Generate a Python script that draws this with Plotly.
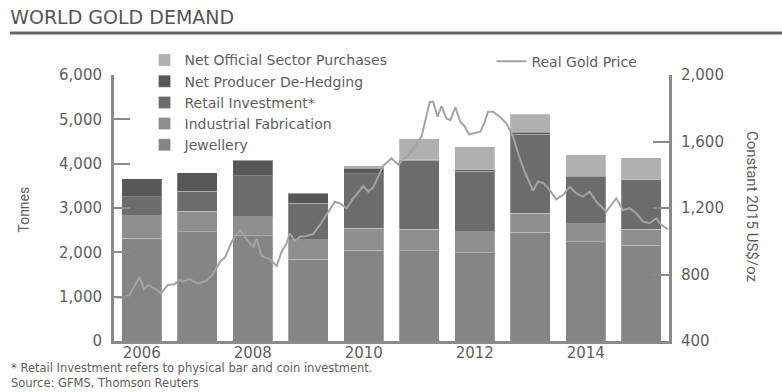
import plotly.graph_objects as go

years = [2006, 2007, 2008, 2009, 2010, 2011, 2012, 2013, 2014, 2015]
jewellery = [2320, 2460, 2370, 1840, 2050, 2040, 1990, 2450, 2240, 2160]
industrial = [500, 470, 430, 440, 490, 480, 480, 430, 400, 360]
retail = [430, 450, 930, 830, 1230, 1560, 1360, 1780, 1060, 1130]
dehedging = [410, 420, 350, 220, 130, 10, 30, 50, 20, 0]
official = [0, 0, 0, 0, 50, 470, 520, 400, 480, 480]

price_t = [2005.51, 2005.66, 2005.78, 2005.96, 2006.04, 2006.11, 2006.19, 2006.26, 2006.35,
           2006.47, 2006.59, 2006.68, 2006.74, 2006.86, 2007.01, 2007.17, 2007.29, 2007.41,
           2007.50, 2007.62, 2007.77, 2007.92, 2008.01, 2008.07, 2008.16, 2008.31, 2008.43,
           2008.52, 2008.61, 2008.67, 2008.76, 2008.85, 2008.97, 2009.09, 2009.21, 2009.36,
           2009.48, 2009.57, 2009.69, 2009.81, 2009.99, 2010.08, 2010.17, 2010.35, 2010.50,
           2010.62, 2010.83, 2011.04, 2011.13, 2011.19, 2011.25, 2011.33, 2011.40, 2011.49,
           2011.56, 2011.65, 2011.74, 2011.82, 2011.90, 2012.00, 2012.10, 2012.17, 2012.24,
           2012.33, 2012.45, 2012.57, 2012.69, 2012.78, 2012.90, 2013.05, 2013.14, 2013.23,
           2013.34, 2013.47, 2013.59, 2013.71, 2013.83, 2013.95, 2014.07, 2014.19, 2014.37,
           2014.46, 2014.55, 2014.67, 2014.79, 2014.91, 2015.03, 2015.15, 2015.27, 2015.36,
           2015.48]
price = [663, 660, 677, 787, 711, 737, 723, 711, 687,
         737, 741, 767, 757, 773, 747, 761, 807, 877,
         903, 997, 1068, 997, 967, 1012, 911, 891, 851,
         937, 988, 1048, 1003, 1027, 1032, 1044, 1098, 1178,
         1238, 1228, 1198, 1258, 1332, 1298, 1324, 1453, 1499,
         1461, 1529, 1629, 1749, 1839, 1839, 1749, 1813, 1739,
         1729, 1806, 1719, 1689, 1643, 1653, 1659, 1709, 1779,
         1779, 1749, 1709, 1629, 1529, 1418, 1304, 1358, 1352,
         1312, 1252, 1278, 1328, 1288, 1268, 1298, 1238, 1178,
         1218, 1258, 1188, 1198, 1168, 1118, 1108, 1138, 1098,
         1072]

tick_years = [2006, 2008, 2010, 2012, 2014]
left_ticks = [0, 1000, 2000, 3000, 4000, 5000, 6000]
right_ticks = [400, 800, 1200, 1600, 2000]

FONT = "DejaVu Sans"
TXT = "#5e5e5e"
AX = "#8a8a8a"

series = [
    ("Jewellery", jewellery, "#858585"),
    ("Industrial Fabrication", industrial, "#8f8f8f"),
    ("Retail Investment*", retail, "#6c6c6c"),
    ("Net Producer De-Hedging", dehedging, "#575757"),
    ("Net Official Sector Purchases", official, "#b0b0b0"),
]

fig = go.Figure()
for name, vals, col in series:
    fig.add_trace(go.Bar(
        x=years, y=vals, name=name, width=0.72,
        marker=dict(color=col, line=dict(color="rgba(255,255,255,0.25)", width=1)),
        legendgroup=name, legend="legend",
    ))

fig.add_trace(go.Scatter(
    x=price_t, y=price, name="Real Gold Price", mode="lines",
    line=dict(color="#a3a3a3", width=2), yaxis="y2", legend="legend2",
))

fig.update_layout(
    width=782, height=392,
    margin=dict(l=114, r=113, t=75, b=51),
    paper_bgcolor="white", plot_bgcolor="white",
    barmode="stack", bargap=0.28,
    font=dict(family=FONT, color=TXT, size=14),
    showlegend=True,
    title=dict(text="WORLD GOLD DEMAND", x=0.013, xanchor="left", xref="container",
               y=0.955, yanchor="middle", yref="container",
               font=dict(family=FONT, size=19, color="#555555")),
    xaxis=dict(range=[2005.5, 2015.5], tickvals=tick_years, ticktext=[str(y) for y in tick_years],
               showline=True, linecolor=AX, linewidth=3, ticks="", showgrid=False, zeroline=False,
               tickfont=dict(size=15, color=TXT), ticklabelstandoff=-4),
    yaxis=dict(range=[0, 6000], tickvals=left_ticks, tickformat=",", showline=True, linecolor=AX,
               linewidth=3, ticks="inside", ticklen=16, tickwidth=2, tickcolor=AX, showgrid=False,
               zeroline=False, tickfont=dict(size=15, color=TXT), ticklabelstandoff=6),
    yaxis2=dict(range=[400, 2000], tickvals=right_ticks, tickformat=",", overlaying="y", side="right",
                showline=True, linecolor=AX, linewidth=3, ticks="inside", ticklen=16, tickwidth=2,
                tickcolor=AX, showgrid=False, zeroline=False, tickfont=dict(size=15, color=TXT),
                ticklabelstandoff=6),
    legend=dict(x=0.055, y=1.115, xanchor="left", yanchor="top", traceorder="reversed",
                tracegroupgap=3, bgcolor="rgba(0,0,0,0)", font=dict(size=14, color=TXT)),
    legend2=dict(x=0.68, y=1.11, xanchor="left", yanchor="top", bgcolor="rgba(0,0,0,0)",
                 font=dict(size=14, color=TXT)),
    shapes=[dict(type="line", xref="paper", yref="paper", x0=-0.1874, x1=1.2036, y0=1.158, y1=1.158,
                 line=dict(color="#666666", width=3))],
    annotations=[
        dict(text="Tonnes", xref="paper", yref="paper", x=-0.163, y=0.4925, textangle=-90,
             xanchor="center", yanchor="middle",
             showarrow=False, font=dict(family="Liberation Sans Narrow, Roboto", size=14, color=TXT)),
        dict(text="Constant 2015 US$/oz", xref="paper", yref="paper", x=1.1495, y=0.504, textangle=90,
             xanchor="center", yanchor="middle",
             showarrow=False, font=dict(family="Liberation Sans Narrow, Roboto", size=15, color=TXT)),
        dict(text="* Retail Investment refers to physical bar and coin investment.<br>"
                  "Source: GFMS, Thomson Reuters",
             xref="paper", yref="paper", x=-0.1874, y=-0.1898, xanchor="left", yanchor="bottom",
             align="left", showarrow=False, borderpad=0, font=dict(size=11.5, color=TXT)),
    ],
)

fig.write_html("out.html")
